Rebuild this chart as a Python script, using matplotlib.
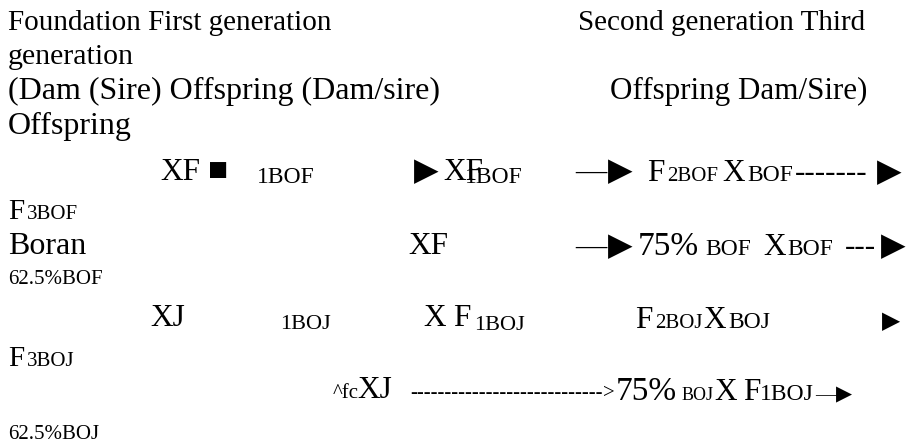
import matplotlib
matplotlib.use("Agg")
import matplotlib.pyplot as plt

plt.rcParams['font.family'] = ['Liberation Serif', 'DejaVu Sans']

W, H = 913, 444
BIG, BIG2, MID, SMALL = 21, 22.5, 17, 15
PCT = 24
TRI = 23

# text pieces of the breeding scheme: (x px, baseline px, text, size)
header_texts = [
    (8, 30, "Foundation First generation", BIG),
    (578, 30, "Second generation Third", BIG),
    (8, 64, "generation", 21.5),
    (8, 99, "(Dam (Sire) Offspring (Dam/sire)", 23),
    (610, 99, "Offspring Dam/Sire)", 22.3),
    (8, 134, "Offspring", 23),
]

row_bof = [
    (160, 180, "XF", BIG2),
    (208, 180, "■", 24),
    (257, 183, "1BOF", 17),
    (414, 180, "▶", TRI),
    (443, 180, "XF", BIG2),
    (465, 183, "1BOF", 17),
    (575, 180, "—", BIG2),
    (608, 180, "▶", TRI),
    (647, 181, "F", BIG2),
    (667, 181, "2BOF", SMALL),
    (722, 181, "X", BIG2),
    (747, 181, "BOF", MID),
    (795, 181, "-------", BIG2),
    (877, 181, "▶", TRI),
    (8, 219, "F", BIG),
    (27, 219, "3BOF", SMALL),
]

row_boran = [
    (8, 254, "Boran", 23),
    (408, 254, "XF", BIG2),
    (575, 255, "—", BIG2),
    (608, 255, "▶", TRI),
    (638, 255, "75%", PCT),
    (705, 255, "BOF", MID),
    (763, 255, "X", BIG2),
    (787, 255, "BOF", MID),
    (845, 255, "---", BIG2),
    (881, 255, "▶", TRI),
    (8, 284, "62.5%BOF", SMALL),
]

row_boj = [
    (150, 326, "XJ", BIG2),
    (280, 329, "1BOJ", 16),
    (423, 326, "X", BIG2),
    (453, 326, "F", BIG2),
    (474, 330, "1BOJ", 16),
    (635, 328, "F", BIG2),
    (655, 328, "2BOJ", SMALL),
    (703, 328, "X", BIG2),
    (728, 328, "BOJ", MID),
    (882, 328, "▶", 17),
    (8, 366, "F", BIG),
    (27, 366, "3BOJ", SMALL),
]

row_boj2 = [
    (333, 398, "^fc", SMALL),
    (357, 398, "XJ", BIG2),
    (410, 398, "----------------------------", SMALL),
    (603, 398, ">", SMALL),
    (616, 400, "75%", PCT),
    (682, 400, "BOJ", 13),
    (714, 400, "X", BIG2),
    (743, 400, "F", BIG2),
    (760, 400, "1BOJ", MID),
    (815, 400, "—", SMALL),
    (836, 400, "▶", 15),
    (8, 439, "62.5%BOJ", SMALL),
]

fig = plt.figure(figsize=(W / 100, H / 100), dpi=100)
ax = fig.add_axes([0, 0, 1, 1])
ax.set_xlim(0, W)
ax.set_ylim(H, 0)
ax.axis('off')

for group in (header_texts, row_bof, row_boran, row_boj, row_boj2):
    for x, y, t, s in group:
        ax.text(x, y, t, fontsize=s, ha='left', va='baseline', color='black')

fig.savefig("out.png", dpi=100, facecolor='white')
